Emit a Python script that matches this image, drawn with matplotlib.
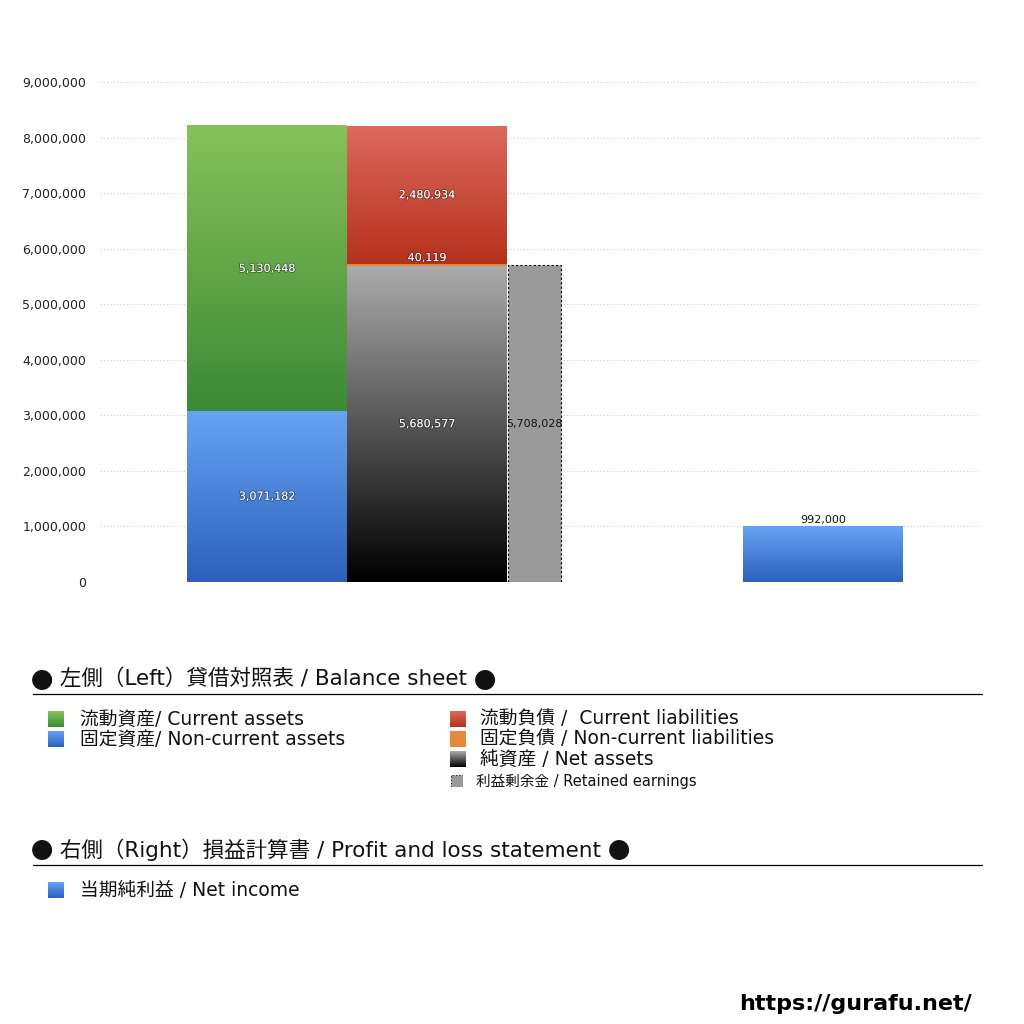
import matplotlib
matplotlib.use("Agg")
import matplotlib.pyplot as plt
import matplotlib.patheffects as pe
from matplotlib.colors import LinearSegmentedColormap
from matplotlib.patches import Rectangle
import numpy as np

plt.rcParams['font.family'] = ['DejaVu Sans', 'Noto Sans CJK JP']
CJK = ['Noto Sans CJK JP', 'DejaVu Sans']

# values
current_assets = 5130448
noncurrent_assets = 3071182
current_liab = 2480934
noncurrent_liab = 40119
net_assets = 5680577
retained = 5708028
net_income = 992000

yticks = [0, 1000000, 2000000, 3000000, 4000000, 5000000, 6000000, 7000000, 8000000, 9000000]

# colours (top, bottom)
c_green = ("#88c159", "#3b8a36")
c_blue = ("#67a3f2", "#2c60bc")
c_red = ("#dc695d", "#b5311c")
c_black = ("#ababab", "#000000")
c_orange = "#e8883a"
c_gray = "#9a9a9a"

W, H = 1024, 1024
fig = plt.figure(figsize=(W / 100, H / 100), dpi=100)
ax = fig.add_axes([100 / W, 1 - 582 / H, 880 / W, 500 / H])


def grad_bar(x0, x1, y0, y1, cols):
    cmap = LinearSegmentedColormap.from_list("g", [cols[1], cols[0]])
    g = np.linspace(0, 1, 256).reshape(-1, 1)
    ax.imshow(g, cmap=cmap, extent=(x0, x1, y0, y1), origin="lower",
              aspect="auto", zorder=2, interpolation="bilinear")


def label(x, y, s, color="white"):
    t = ax.text(x, y, s, ha="center", va="center", fontsize=8, color=color, zorder=5)
    if color == "white":
        t.set_path_effects([pe.withStroke(linewidth=1.2, foreground="#00000066")])


# left group: assets
bx0, bw = 87, 160
grad_bar(bx0, bx0 + bw, 0, noncurrent_assets, c_blue)
grad_bar(bx0, bx0 + bw, noncurrent_assets, noncurrent_assets + current_assets, c_green)
label(bx0 + bw / 2, noncurrent_assets / 2, f"{noncurrent_assets:,}")
label(bx0 + bw / 2, noncurrent_assets + current_assets / 2, f"{current_assets:,}")

# liabilities + net assets
lx0 = 247
grad_bar(lx0, lx0 + bw, 0, net_assets, c_black)
ax.add_patch(Rectangle((lx0, net_assets), bw, noncurrent_liab, color=c_orange, zorder=3, lw=0))
top_nc = net_assets + noncurrent_liab
grad_bar(lx0, lx0 + bw, top_nc, top_nc + current_liab, c_red)
label(lx0 + bw / 2, net_assets / 2, f"{net_assets:,}")
label(lx0 + bw / 2, top_nc + 110000, f"{noncurrent_liab:,}")
label(lx0 + bw / 2, top_nc + current_liab / 2, f"{current_liab:,}")

# retained earnings
rx0, rw = 408, 53
ax.add_patch(Rectangle((rx0, 0), rw, retained, facecolor=c_gray, edgecolor="black",
                       lw=0.8, ls=(0, (2, 2)), zorder=3))
ax.text(rx0 + rw / 2, net_assets / 2, f"{retained:,}", ha="center", va="center",
        fontsize=8, color="#111111", zorder=5)

# right: net income
nx0 = 643
grad_bar(nx0, nx0 + bw, 0, net_income, c_blue)
ax.text(nx0 + bw / 2, net_income + 40000, f"{net_income:,}", ha="center", va="bottom",
        fontsize=8, color="#111111", zorder=5)

ax.set_xlim(0, 880)
ax.set_ylim(0, 9000000)
ax.set_yticks(yticks)
ax.set_yticklabels([f"{v:,}" for v in yticks], fontsize=9, color="#222222")
ax.set_xticks([])
ax.tick_params(axis="y", length=0, pad=10)
ax.grid(axis="y", color="#c8c8c8", ls=(0, (1, 2)), lw=0.8, zorder=0)
for s in ax.spines.values():
    s.set_visible(False)


# legend area
def fx(px):
    return px / W


def fy(py):
    return 1 - py / H


def swatch(px, py, cols, size=15, dashed=False):
    sa = fig.add_axes([fx(px), fy(py + size / 2), size / W, size / H])
    if dashed:
        sa.add_patch(Rectangle((0, 0), 1, 1, facecolor=c_gray, edgecolor="#333333",
                               lw=0.8, ls=(0, (1.5, 1.5))))
    elif isinstance(cols, tuple):
        cmap = LinearSegmentedColormap.from_list("s", [cols[1], cols[0]])
        sa.imshow(np.linspace(0, 1, 64).reshape(-1, 1), cmap=cmap, origin="lower",
                  aspect="auto", extent=(0, 1, 0, 1))
    else:
        sa.add_patch(Rectangle((0, 0), 1, 1, color=cols))
    sa.set_xlim(0, 1)
    sa.set_ylim(0, 1)
    sa.axis("off")


def heading(py, body):
    # bullets drawn in the CJK font (bigger glyph), body in the default family
    t0 = fig.text(fx(31), fy(py + 2), "●", fontsize=16, va="center", ha="left",
                  color="#111111", family=CJK)
    t1 = ax.annotate(" " + body + " ", xy=(1, 0.5), xycoords=t0, xytext=(0, 1.4),
                     textcoords="offset points", va="center", ha="left",
                     fontsize=15.5, color="#111111", annotation_clip=False)
    ax.annotate("●", xy=(1, 0.5), xycoords=t1, xytext=(0, -1.4),
                textcoords="offset points", va="center", ha="left",
                fontsize=16, color="#111111", family=CJK, annotation_clip=False)


heading(679, "左側（Left）貸借対照表 / Balance sheet")
fig.add_artist(plt.Line2D([fx(33), fx(982)], [fy(694), fy(694)], color="black", lw=0.9))

left_items = [("流動資産/ Current assets", c_green, 719),
              ("固定資産/ Non-current assets", c_blue, 739)]
for txt, col, py in left_items:
    swatch(48, py, col, size=16)
    fig.text(fx(80), fy(py), txt, fontsize=13.5, va="center", ha="left", color="#111111")

right_items = [("流動負債 /  Current liabilities", c_red, 719),
               ("固定負債 / Non-current liabilities", c_orange, 739),
               ("純資産 / Net assets", c_black, 759)]
for txt, col, py in right_items:
    swatch(450, py, col, size=16)
    fig.text(fx(480), fy(py), txt, fontsize=13.5, va="center", ha="left", color="#111111")
swatch(451, 781, None, size=12, dashed=True)
fig.text(fx(476), fy(781), "利益剰余金 / Retained earnings", fontsize=10.5, va="center",
         ha="left", color="#111111")

heading(850, "右側（Right）損益計算書 / Profit and loss statement")
fig.add_artist(plt.Line2D([fx(33), fx(982)], [fy(865), fy(865)], color="black", lw=0.9))
swatch(48, 890, c_blue, size=16)
fig.text(fx(80), fy(890), "当期純利益 / Net income", fontsize=13.5, va="center", ha="left",
         color="#111111")

fig.text(fx(972), fy(1004), "https://gurafu.net/", fontsize=16, fontweight="bold",
         va="center", ha="right", color="black", family=["DejaVu Sans"])

fig.savefig("out.png", dpi=100)
